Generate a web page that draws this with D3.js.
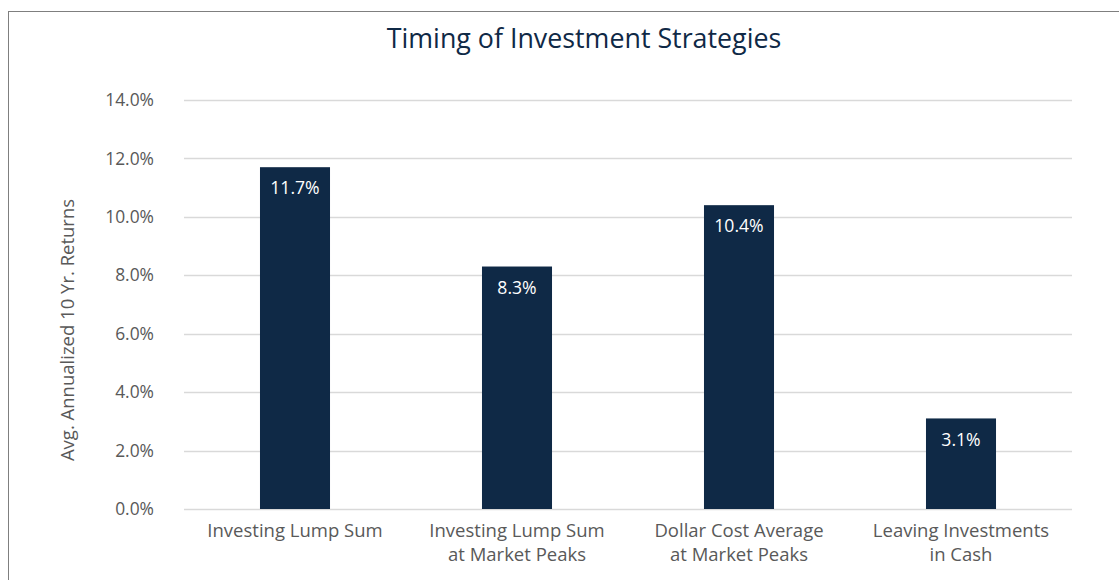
<!DOCTYPE html>
<html>
<head>
<meta charset="utf-8">
<script src="https://cdn.jsdelivr.net/npm/d3@7"></script>
<style>
  body { margin: 0; background: #fff; }
  svg { font-family: "Open Sans", sans-serif; }
</style>
</head>
<body>
<svg width="1119" height="580"></svg>
<script>
var categories = [
    ["Investing Lump Sum"],
    ["Investing Lump Sum", "at Market Peaks"],
    ["Dollar Cost Average", "at Market Peaks"],
    ["Leaving Investments", "in Cash"]
];
var values = [11.7, 8.3, 10.4, 3.1];
var yTicks = [0, 2, 4, 6, 8, 10, 12, 14];

var svg = d3.select('svg');
var navy = '#0f2946';

// outer frame, right and bottom edges run off the page
svg.append('rect').attr('x', 8.5).attr('y', 11.5).attr('width', 1130).attr('height', 600)
    .attr('fill', 'none').attr('stroke', '#7f7f7f').attr('stroke-width', 1);

var plotLeft = 184, plotRight = 1072, plotTop = 100, plotBottom = 509;

var x = d3.scaleBand().domain(d3.range(categories.length)).range([plotLeft, plotRight]).padding(0);
var y = d3.scaleLinear().domain([0, 14]).range([plotBottom, plotTop]);
var barW = x.bandwidth() / 3.17;

// gridlines
svg.append('g').selectAll('line').data(yTicks).enter().append('line')
    .attr('x1', plotLeft).attr('x2', plotRight)
    .attr('y1', d => Math.round(y(d)) + 0.5).attr('y2', d => Math.round(y(d)) + 0.5)
    .attr('stroke', '#d9d9d9').attr('stroke-width', 1.5);

// y tick labels
svg.append('g').selectAll('text').data(yTicks).enter().append('text')
    .attr('x', 154).attr('y', d => y(d)).attr('dy', '0.35em')
    .attr('text-anchor', 'end').attr('font-size', '17.4px').attr('fill', '#595959')
    .text(d => d.toFixed(1) + '%');

// bars
svg.append('g').selectAll('rect').data(values).enter().append('rect')
    .attr('x', (d, i) => x(i) + (x.bandwidth() - barW) / 2)
    .attr('width', barW)
    .attr('y', d => y(d))
    .attr('height', d => y(0) - y(d))
    .attr('fill', navy);

// value labels inside bar tops
svg.append('g').selectAll('text').data(values).enter().append('text')
    .attr('x', (d, i) => x(i) + x.bandwidth() / 2)
    .attr('y', d => y(d) + 21).attr('dy', '0.35em')
    .attr('text-anchor', 'middle').attr('font-size', '17.6px').attr('fill', '#ffffff')
    .text(d => d.toFixed(1) + '%');

// category labels
var cat = svg.append('g').selectAll('text').data(categories).enter().append('text')
    .attr('text-anchor', 'middle').attr('font-size', '18.5px').attr('fill', '#595959');
cat.selectAll('tspan').data((d, i) => d.map(t => ({t: t, i: i}))).enter().append('tspan')
    .attr('x', d => x(d.i) + x.bandwidth() / 2)
    .attr('y', (d, j) => 537 + j * 24)
    .text(d => d.t);

// y axis title
svg.append('text')
    .attr('transform', 'translate(74,330) rotate(-90)')
    .attr('text-anchor', 'middle').attr('font-size', '18.5px').attr('fill', '#595959')
    .text('Avg. Annualized 10 Yr. Returns');

// chart title
svg.append('text').attr('x', 584).attr('y', 48)
    .attr('text-anchor', 'middle').attr('font-size', '26.8px').attr('fill', navy)
    .text('Timing of Investment Strategies');
</script>
</body>
</html>
